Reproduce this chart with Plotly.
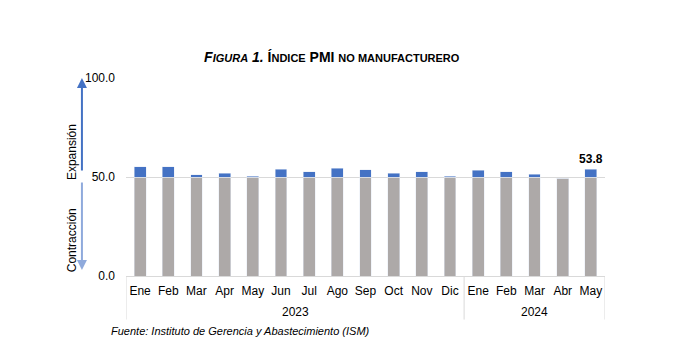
import plotly.graph_objects as go

months = ["Ene", "Feb", "Mar", "Apr", "May", "Jun", "Jul", "Ago", "Sep", "Oct", "Nov", "Dic",
          "Ene", "Feb", "Mar", "Abr", "May"]
years = ["2023"] * 12 + ["2024"] * 5
pmi = [55.2, 55.1, 51.2, 51.9, 50.3, 53.9, 52.7, 54.5, 53.6, 51.8, 52.7, 50.5,
       53.4, 52.6, 51.4, 49.4, 53.8]
threshold = 50
y_ticks = [0, 50, 100]

base = [min(v, threshold) for v in pmi]
excess = [max(v - threshold, 0) for v in pmi]
xpos = list(range(len(months)))

FONT = "Liberation Sans, Arial, sans-serif"
LINE = "#D9D9D9"
BW = 0.42

fig = go.Figure()
fig.add_trace(go.Bar(x=xpos, y=base, marker_color="#ADA9A8", width=BW, name="Base"))
fig.add_trace(go.Bar(x=xpos, y=excess, marker_color="#4472C4", width=BW, name="Exceso",
                     text=[""] * (len(pmi) - 1) + [f"<b>{pmi[-1]:.1f}</b>"],
                     textposition="outside", cliponaxis=False, constraintext="none",
                     textfont=dict(family=FONT, size=12, color="#000000")))

fig.update_layout(
    barmode="stack",
    width=677, height=353,
    margin=dict(l=126, r=72, t=78, b=77),
    paper_bgcolor="white", plot_bgcolor="white",
    showlegend=False,
    font=dict(family=FONT, size=12, color="#000000"),
    title=dict(
        text="<b><i>F<span style='font-size:11px'>IGURA</span> 1.</i> Í<span style='font-size:11px'>NDICE</span> PMI <span style='font-size:11px'>NO MANUFACTURERO</span></b>",
        x=0.49, xanchor="center", y=0.838, yanchor="middle",
        font=dict(family=FONT, size=14, color="#000000")),
    xaxis=dict(
        range=[-0.5, len(months) - 0.5],
        tickvals=xpos, ticktext=months, tickangle=0,
        showgrid=False, showline=True, linecolor=LINE, linewidth=1, mirror=False,
        ticks="", ticklabelstandoff=4, zeroline=False,
        tickfont=dict(family=FONT, size=12, color="#000000")),
    yaxis=dict(
        range=[0, 100], tickvals=y_ticks, tickformat=".1f",
        showgrid=True, gridcolor=LINE, gridwidth=1, zeroline=False,
        showline=False, ticks="", ticklabelstandoff=10,
        tickfont=dict(family=FONT, size=12, color="#000000")),
)

# Group dividers and year labels
group_edges = [-0.5, 11.5, len(months) - 0.5]
for xe in group_edges:
    fig.add_shape(type="line", xref="x", yref="paper", x0=xe, x1=xe, y0=0, y1=-0.22,
                  line=dict(color=LINE, width=1))
for i, yr in enumerate(["2023", "2024"]):
    center = (group_edges[i] + group_edges[i + 1]) / 2
    fig.add_annotation(x=center, y=-0.18, xref="x", yref="paper", text=yr, showarrow=False,
                       yanchor="middle", font=dict(family=FONT, size=12, color="#000000"))

# Arrows and side labels
fig.add_annotation(x=-0.092, y=100, ax=-0.092, ay=52.5, xref="x domain", yref="y",
                   axref="x domain", ayref="y",
                   showarrow=True, arrowhead=2, arrowsize=1, arrowwidth=2, arrowcolor="#4472C4", text="")
fig.add_annotation(x=-0.092, y=3, ax=-0.092, ay=48, xref="x domain", yref="y",
                   axref="x domain", ayref="y",
                   showarrow=True, arrowhead=2, arrowsize=1, arrowwidth=2, arrowcolor="#8FAADC", text="")
fig.add_annotation(x=-0.113, y=62.5, xref="paper", yref="y", text="Expansión", textangle=-90,
                   xanchor="center", yanchor="middle",
                   showarrow=False, font=dict(family=FONT, size=12, color="#000000"))
fig.add_annotation(x=-0.113, y=18, xref="paper", yref="y", text="Contracción", textangle=-90,
                   xanchor="center", yanchor="middle",
                   showarrow=False, font=dict(family=FONT, size=12, color="#000000"))
fig.add_annotation(x=-0.035, y=-0.28, xref="paper", yref="paper", xanchor="left", yanchor="middle",
                   text="<i>Fuente: Instituto de Gerencia y Abastecimiento (ISM)</i>", showarrow=False,
                   font=dict(family=FONT, size=11, color="#000000"))

fig.write_html("out.html")
